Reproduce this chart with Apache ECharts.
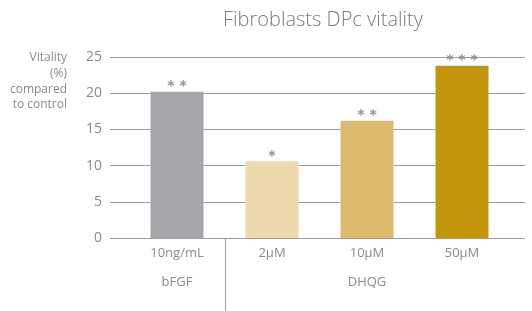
<!DOCTYPE html>
<html>
<head>
<meta charset="utf-8">
<script src="https://cdn.jsdelivr.net/npm/echarts@6/dist/echarts.min.js"></script>
<style>
html, body { margin: 0; padding: 0; background: #fff; }
#ct1 { width: 532px; height: 311px; }
</style>
</head>
<body>
<div id="ct1"></div>
<script>
var doses = ['10ng/mL', '2μM', '10μM', '50μM'];
var groups = ['bFGF', '', 'DHQG', ''];
var vitality = [20.2, 10.6, 16.2, 23.8];
var stars = ['* *', '*', '* *', '* * *'];
var barColors = ['#a5a6aa', '#eed9ae', '#ddb96e', '#c4960e'];
var yTicks = { min: 0, max: 25, interval: 5 };
var yName = 'Vitality\n(%)\ncompared\nto control';

var textColor = '#8a8a8a';
var fontName = '"Open Sans", "Noto Sans", sans-serif';

var barData = [];
for (var i = 0; i < vitality.length; i++) {
	barData.push({
		value: vitality[i],
		itemStyle: { color: barColors[i] },
		label: { formatter: stars[i] }
	});
}

var labels = [];
for (var i = 0; i < doses.length; i++) {
	labels.push(groups[i] ? doses[i] + '\n\n' + groups[i] : doses[i]);
}

var option1 = {
	animation: false,
	title: [{
		text: 'Fibroblasts DPc vitality',
		left: 318,
		textAlign: 'center',
		top: 5,
		textStyle: { color: '#7a7a7a', fontSize: 20, fontWeight: 300, fontFamily: fontName }
	}, {
		text: yName,
		left: 62,
		textAlign: 'right',
		top: 45,
		textStyle: { color: textColor, fontSize: 12, fontWeight: 'normal', fontFamily: fontName, lineHeight: 15.7 }
	}],
	grid: [
		{ left: 110, right: 7, top: 57, bottom: 73, outerBoundsMode: 'none', containLabel: false },
		{ left: 129.5, right: 22.5, top: 57, bottom: 73, outerBoundsMode: 'none', containLabel: false }
	],
	xAxis: [
		{ gridIndex: 0, type: 'value', show: false, min: 0, max: 1 },
		{
			gridIndex: 1, type: 'category', data: labels,
			axisLine: { show: false }, axisTick: { show: false },
			axisLabel: { color: textColor, fontSize: 13, fontFamily: fontName, lineHeight: 14.5, margin: 8 }
		}
	],
	yAxis: [
		{
			gridIndex: 0, type: 'value', min: yTicks.min, max: yTicks.max, interval: yTicks.interval,
			axisLine: { show: false }, axisTick: { show: false },
			axisLabel: { color: textColor, fontSize: 14, fontFamily: fontName, margin: 8 },
			splitLine: { lineStyle: { color: '#9c9c9c', width: 1 } }
		},
		{ gridIndex: 1, type: 'value', show: false, min: yTicks.min, max: yTicks.max }
	],
	series: [{
		type: 'bar',
		xAxisIndex: 1,
		yAxisIndex: 1,
		barWidth: 53,
		data: barData,
		label: {
			show: true, position: 'top', distance: -2,
			color: '#8f8f8f', fontSize: 14, fontWeight: 'bold', fontFamily: 'DejaVu Sans'
		}
	}]
};

var myChart1 = echarts.init(document.getElementById('ct1'), null, { renderer: 'canvas' });
myChart1.setOption(option1, true);

// divider between bFGF and DHQG, at the band boundary below the axis
var p0 = myChart1.convertToPixel({ xAxisIndex: 1, yAxisIndex: 1 }, [0, 0]);
var p1 = myChart1.convertToPixel({ xAxisIndex: 1, yAxisIndex: 1 }, [1, 0]);
var divX = Math.round((p0[0] + p1[0]) / 2) + 0.5;
myChart1.setOption({
	graphic: [{
		type: 'line',
		shape: { x1: divX, y1: p0[1], x2: divX, y2: 311 },
		style: { stroke: '#9c9c9c', lineWidth: 1 }
	}]
});
</script>
</body>
</html>
